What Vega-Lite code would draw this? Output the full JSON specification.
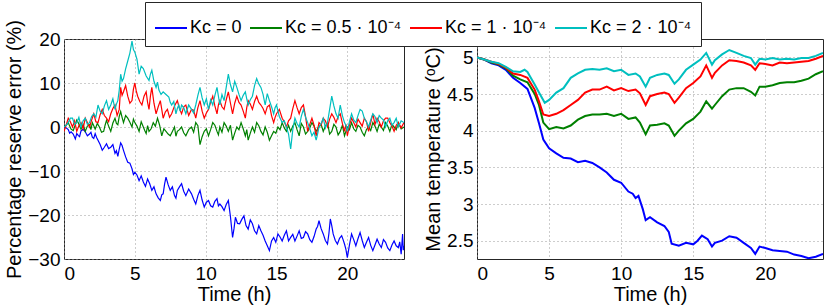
{
 "$schema": "https://vega.github.io/schema/vega-lite/v6.json",
 "padding": {"left": 4, "top": 1, "right": 5, "bottom": 0},
 "bounds": "flush",
 "spacing": 73,
 "config": {
  "font": "Liberation Sans",
  "view": {"stroke": "#262626", "strokeWidth": 1},
  "axis": {"domain": false, "ticks": false, "grid": true, "gridColor": "#9a9a9a", "gridDash": [1, 3], "gridWidth": 1, "labelFont": "Liberation Sans", "labelFontSize": 19, "labelColor": "#000", "titleFont": "Liberation Sans", "titleFontSize": 20, "titleFontWeight": 400, "titleColor": "#000"},
  "axisX": {"labelPadding": 5, "titlePadding": 1},
  "axisY": {"labelPadding": 4, "titlePadding": 3},
  "legend": {"orient": "none", "legendX": 81, "legendY": -37, "direction": "horizontal", "title": null, "symbolType": "stroke", "symbolSize": 1024, "symbolStrokeWidth": 2, "labelFontSize": 18, "labelFont": "Liberation Sans", "labelOffset": 2, "columnPadding": 4, "padding": 9, "strokeColor": "#262626", "fillColor": "white", "labelColor": "#000"}
 },
 "datasets": {
  "err": [
   {"t":0,"k":0,"v":0},{"t":0.3,"k":0,"v":-0.6},{"t":0.5,"k":0,"v":-1.1},{"t":0.8,"k":0,"v":-2.7},{"t":1.0,"k":0,"v":-1.9},{"t":1.2,"k":0,"v":-0.9},{"t":1.5,"k":0,"v":-1.1},{"t":1.8,"k":0,"v":-1.6},{"t":2.0,"k":0,"v":-2.3},{"t":2.2,"k":0,"v":-1.5},{"t":2.4,"k":0,"v":-3.0},{"t":2.7,"k":0,"v":-5.3},{"t":3.0,"k":0,"v":-3.8},{"t":3.3,"k":0,"v":-4.6},{"t":3.6,"k":0,"v":-6.0},{"t":3.8,"k":0,"v":-6.7},{"t":4.0,"k":0,"v":-3.6},{"t":4.2,"k":0,"v":-5.3},{"t":4.5,"k":0,"v":-8.0},{"t":4.8,"k":0,"v":-9.5},{"t":5.0,"k":0,"v":-10.3},{"t":5.3,"k":0,"v":-12.2},{"t":5.6,"k":0,"v":-12.5},{"t":5.9,"k":0,"v":-11.8},{"t":6.2,"k":0,"v":-14.4},{"t":6.5,"k":0,"v":-15.2},{"t":6.8,"k":0,"v":-16.7},{"t":7.0,"k":0,"v":-15.2},{"t":7.2,"k":0,"v":-11.4},{"t":7.5,"k":0,"v":-14.4},{"t":7.8,"k":0,"v":-15.6},{"t":8.0,"k":0,"v":-14.4},{"t":8.3,"k":0,"v":-12.9},{"t":8.6,"k":0,"v":-15.6},{"t":9.0,"k":0,"v":-15.2},{"t":9.3,"k":0,"v":-17.5},{"t":9.6,"k":0,"v":-14.4},{"t":9.9,"k":0,"v":-18.2},{"t":10.2,"k":0,"v":-16.7},{"t":10.5,"k":0,"v":-18.2},{"t":10.8,"k":0,"v":-16.3},{"t":11.0,"k":0,"v":-17.5},{"t":11.3,"k":0,"v":-19.0},{"t":11.6,"k":0,"v":-16.7},{"t":11.9,"k":0,"v":-25.1},{"t":12.1,"k":0,"v":-20.5},{"t":12.4,"k":0,"v":-22.0},{"t":12.7,"k":0,"v":-20.2},{"t":13.0,"k":0,"v":-23.2},{"t":13.3,"k":0,"v":-22.0},{"t":13.6,"k":0,"v":-24.3},{"t":13.9,"k":0,"v":-23.6},{"t":14.2,"k":0,"v":-25.9},{"t":14.5,"k":0,"v":-28.1},{"t":14.8,"k":0,"v":-25.1},{"t":15.1,"k":0,"v":-24.3},{"t":15.4,"k":0,"v":-25.9},{"t":15.7,"k":0,"v":-23.6},{"t":16.0,"k":0,"v":-25.1},{"t":16.3,"k":0,"v":-25.9},{"t":16.6,"k":0,"v":-23.6},{"t":16.9,"k":0,"v":-25.1},{"t":17.2,"k":0,"v":-24.3},{"t":17.5,"k":0,"v":-26.2},{"t":17.8,"k":0,"v":-23.2},{"t":18.0,"k":0,"v":-21.3},{"t":18.3,"k":0,"v":-24.3},{"t":18.6,"k":0,"v":-26.6},{"t":18.8,"k":0,"v":-20.9},{"t":19.0,"k":0,"v":-24.3},{"t":19.3,"k":0,"v":-26.6},{"t":19.6,"k":0,"v":-24.7},{"t":19.8,"k":0,"v":-26.6},{"t":20.0,"k":0,"v":-29.7},{"t":20.3,"k":0,"v":-24.3},{"t":20.6,"k":0,"v":-27.0},{"t":20.9,"k":0,"v":-24.0},{"t":21.2,"k":0,"v":-27.4},{"t":21.5,"k":0,"v":-25.1},{"t":21.8,"k":0,"v":-28.1},{"t":22.1,"k":0,"v":-25.5},{"t":22.4,"k":0,"v":-27.4},{"t":22.7,"k":0,"v":-26.2},{"t":23.0,"k":0,"v":-28.1},{"t":23.3,"k":0,"v":-25.9},{"t":23.6,"k":0,"v":-27.4},{"t":23.8,"k":0,"v":-28.9},{"t":23.9,"k":0,"v":-24.3},{"t":24.0,"k":0,"v":-27.0},
   {"t":0.15,"k":0,"v":-0.2},{"t":0.4,"k":0,"v":-1.4},{"t":0.65,"k":0,"v":-1.6},{"t":0.9,"k":0,"v":-1.5},{"t":1.1,"k":0,"v":-2.2},{"t":1.35,"k":0,"v":-0.5},{"t":1.65,"k":0,"v":-2.0},{"t":1.9,"k":0,"v":-1.2},{"t":2.1,"k":0,"v":-2.6},{"t":2.3,"k":0,"v":-2.4},{"t":2.55,"k":0,"v":-4.0},{"t":2.85,"k":0,"v":-4.6},{"t":3.15,"k":0,"v":-4.9},{"t":3.45,"k":0,"v":-4.0},{"t":3.7,"k":0,"v":-5.4},{"t":3.9,"k":0,"v":-5.0},{"t":4.1,"k":0,"v":-4.2},{"t":4.35,"k":0,"v":-6.8},{"t":4.65,"k":0,"v":-8.2},{"t":4.9,"k":0,"v":-10.8},{"t":5.15,"k":0,"v":-10.9},{"t":5.45,"k":0,"v":-11.1},{"t":5.75,"k":0,"v":-13.5},{"t":6.05,"k":0,"v":-12.9},{"t":6.35,"k":0,"v":-13.6},{"t":6.65,"k":0,"v":-16.1},{"t":6.9,"k":0,"v":-15.4},{"t":7.1,"k":0,"v":-13.0},{"t":7.35,"k":0,"v":-13.1},{"t":7.65,"k":0,"v":-13.6},{"t":7.9,"k":0,"v":-16.2},{"t":8.15,"k":0,"v":-13.6},{"t":8.45,"k":0,"v":-14.6},{"t":8.8,"k":0,"v":-14.1},{"t":9.15,"k":0,"v":-16.4},{"t":9.45,"k":0,"v":-15.6},{"t":9.75,"k":0,"v":-16.6},{"t":10.05,"k":0,"v":-17.1},{"t":10.35,"k":0,"v":-17.9},{"t":10.65,"k":0,"v":-16.9},{"t":10.9,"k":0,"v":-17.9},{"t":11.15,"k":0,"v":-18.1},{"t":11.45,"k":0,"v":-17.6},{"t":11.75,"k":0,"v":-20.4},{"t":12.0,"k":0,"v":-23.1},{"t":12.25,"k":0,"v":-21.9},{"t":12.55,"k":0,"v":-21.0},{"t":12.85,"k":0,"v":-22.4},{"t":13.15,"k":0,"v":-21.1},{"t":13.45,"k":0,"v":-23.6},{"t":13.75,"k":0,"v":-22.4},{"t":14.05,"k":0,"v":-24.6},{"t":14.35,"k":0,"v":-27.0},{"t":14.65,"k":0,"v":-25.9},{"t":14.95,"k":0,"v":-26.2},{"t":15.25,"k":0,"v":-25.0},{"t":15.55,"k":0,"v":-24.6},{"t":15.85,"k":0,"v":-25.9},{"t":16.15,"k":0,"v":-24.4},{"t":16.45,"k":0,"v":-24.8},{"t":16.75,"k":0,"v":-25.3},{"t":17.05,"k":0,"v":-23.8},{"t":17.35,"k":0,"v":-25.6},{"t":17.65,"k":0,"v":-24.9},{"t":17.9,"k":0,"v":-22.6},{"t":18.15,"k":0,"v":-23.1},{"t":18.45,"k":0,"v":-25.8},{"t":18.7,"k":0,"v":-24.2},{"t":18.9,"k":0,"v":-22.4},{"t":19.15,"k":0,"v":-25.8},{"t":19.45,"k":0,"v":-25.3},{"t":19.7,"k":0,"v":-25.6},{"t":19.9,"k":0,"v":-27.8},{"t":20.15,"k":0,"v":-26.8},{"t":20.45,"k":0,"v":-25.6},{"t":20.75,"k":0,"v":-25.4},{"t":21.05,"k":0,"v":-25.8},{"t":21.35,"k":0,"v":-26.2},{"t":21.65,"k":0,"v":-26.9},{"t":21.95,"k":0,"v":-26.8},{"t":22.25,"k":0,"v":-26.6},{"t":22.55,"k":0,"v":-25.6},{"t":22.85,"k":0,"v":-27.5},{"t":23.15,"k":0,"v":-26.8},{"t":23.45,"k":0,"v":-27.0},{"t":23.7,"k":0,"v":-26.1},{"t":23.95,"k":0,"v":-28.0},

   {"t":0,"k":0.5,"v":0},{"t":0.3,"k":0.5,"v":1.0},{"t":0.5,"k":0.5,"v":-0.5},{"t":0.8,"k":0.5,"v":0.5},{"t":1.0,"k":0.5,"v":1.0},{"t":1.2,"k":0.5,"v":-0.5},{"t":1.5,"k":0.5,"v":-1.0},{"t":1.8,"k":0.5,"v":0.5},{"t":2.0,"k":0.5,"v":1.0},{"t":2.2,"k":0.5,"v":-0.5},{"t":2.5,"k":0.5,"v":0.0},{"t":2.8,"k":0.5,"v":-1.0},{"t":3.0,"k":0.5,"v":1.5},{"t":3.3,"k":0.5,"v":-1.0},{"t":3.6,"k":0.5,"v":2.0},{"t":3.8,"k":0.5,"v":0.5},{"t":4.0,"k":0.5,"v":3.5},{"t":4.2,"k":0.5,"v":1.0},{"t":4.5,"k":0.5,"v":2.0},{"t":4.8,"k":0.5,"v":0.0},{"t":5.0,"k":0.5,"v":1.0},{"t":5.3,"k":0.5,"v":-1.0},{"t":5.6,"k":0.5,"v":0.0},{"t":5.8,"k":0.5,"v":-1.5},{"t":6.0,"k":0.5,"v":-1.0},{"t":6.3,"k":0.5,"v":1.0},{"t":6.6,"k":0.5,"v":2.0},{"t":6.9,"k":0.5,"v":-2.0},{"t":7.2,"k":0.5,"v":-1.0},{"t":7.5,"k":0.5,"v":-2.0},{"t":7.8,"k":0.5,"v":0.0},{"t":8.0,"k":0.5,"v":-1.0},{"t":8.3,"k":0.5,"v":0.0},{"t":8.6,"k":0.5,"v":-2.0},{"t":9.0,"k":0.5,"v":0.0},{"t":9.3,"k":0.5,"v":1.0},{"t":9.6,"k":0.5,"v":-4.0},{"t":9.9,"k":0.5,"v":-1.0},{"t":10.2,"k":0.5,"v":-2.0},{"t":10.5,"k":0.5,"v":1.0},{"t":10.8,"k":0.5,"v":-1.0},{"t":11.0,"k":0.5,"v":0.0},{"t":11.3,"k":0.5,"v":1.0},{"t":11.6,"k":0.5,"v":-1.0},{"t":11.9,"k":0.5,"v":-3.0},{"t":12.2,"k":0.5,"v":0.0},{"t":12.5,"k":0.5,"v":1.0},{"t":12.8,"k":0.5,"v":-2.0},{"t":13.0,"k":0.5,"v":-3.0},{"t":13.3,"k":0.5,"v":0.0},{"t":13.6,"k":0.5,"v":1.0},{"t":13.9,"k":0.5,"v":-1.0},{"t":14.2,"k":0.5,"v":0.0},{"t":14.5,"k":0.5,"v":-3.0},{"t":14.8,"k":0.5,"v":-1.0},{"t":15.1,"k":0.5,"v":0.0},{"t":15.4,"k":0.5,"v":1.0},{"t":15.7,"k":0.5,"v":-1.0},{"t":16.0,"k":0.5,"v":-1.0},{"t":16.3,"k":0.5,"v":1.0},{"t":16.6,"k":0.5,"v":-2.0},{"t":16.9,"k":0.5,"v":0.0},{"t":17.2,"k":0.5,"v":-1.0},{"t":17.5,"k":0.5,"v":1.0},{"t":17.8,"k":0.5,"v":-1.0},{"t":18.0,"k":0.5,"v":0.0},{"t":18.3,"k":0.5,"v":-1.0},{"t":18.6,"k":0.5,"v":1.0},{"t":18.9,"k":0.5,"v":-1.0},{"t":19.2,"k":0.5,"v":0.0},{"t":19.5,"k":0.5,"v":-1.0},{"t":19.8,"k":0.5,"v":-2.0},{"t":20.0,"k":0.5,"v":0.0},{"t":20.3,"k":0.5,"v":1.0},{"t":20.6,"k":0.5,"v":-1.0},{"t":20.9,"k":0.5,"v":0.0},{"t":21.2,"k":0.5,"v":-2.0},{"t":21.5,"k":0.5,"v":0.0},{"t":21.8,"k":0.5,"v":1.0},{"t":22.1,"k":0.5,"v":-1.0},{"t":22.4,"k":0.5,"v":0.0},{"t":22.7,"k":0.5,"v":1.0},{"t":23.0,"k":0.5,"v":-1.0},{"t":23.3,"k":0.5,"v":0.0},{"t":23.6,"k":0.5,"v":1.0},{"t":24.0,"k":0.5,"v":0.0},
   {"t":0.15,"k":0.5,"v":0.4},{"t":0.4,"k":0.5,"v":0.2},{"t":0.65,"k":0.5,"v":-0.8},{"t":0.9,"k":0.5,"v":1.6},{"t":1.1,"k":0.5,"v":0.2},{"t":1.35,"k":0.5,"v":0.6},{"t":1.65,"k":0.5,"v":0.2},{"t":1.9,"k":0.5,"v":-0.6},{"t":2.1,"k":0.5,"v":0.3},{"t":2.35,"k":0.5,"v":0.8},{"t":2.65,"k":0.5,"v":-1.2},{"t":2.9,"k":0.5,"v":0.4},{"t":3.15,"k":0.5,"v":0.2},{"t":3.45,"k":0.5,"v":0.9},{"t":3.7,"k":0.5,"v":0.8},{"t":3.9,"k":0.5,"v":2.4},{"t":4.1,"k":0.5,"v":2.2},{"t":4.35,"k":0.5,"v":2.6},{"t":4.65,"k":0.5,"v":1.1},{"t":4.9,"k":0.5,"v":1.8},{"t":5.15,"k":0.5,"v":0.2},{"t":5.45,"k":0.5,"v":1.2},{"t":5.7,"k":0.5,"v":-0.8},{"t":5.9,"k":0.5,"v":0.3},{"t":6.15,"k":0.5,"v":-0.4},{"t":6.45,"k":0.5,"v":0.2},{"t":6.75,"k":0.5,"v":0.4},{"t":7.05,"k":0.5,"v":-0.4},{"t":7.35,"k":0.5,"v":-1.6},{"t":7.65,"k":0.5,"v":-1.0},{"t":7.9,"k":0.5,"v":-2.1},{"t":8.15,"k":0.5,"v":-0.6},{"t":8.45,"k":0.5,"v":-1.3},{"t":8.8,"k":0.5,"v":-0.6},{"t":9.15,"k":0.5,"v":-1.2},{"t":9.45,"k":0.5,"v":0.3},{"t":9.75,"k":0.5,"v":-2.2},{"t":10.05,"k":0.5,"v":-0.4},{"t":10.35,"k":0.5,"v":-0.6},{"t":10.65,"k":0.5,"v":0.4},{"t":10.9,"k":0.5,"v":-1.8},{"t":11.15,"k":0.5,"v":-1.2},{"t":11.45,"k":0.5,"v":0.2},{"t":11.75,"k":0.5,"v":0.4},{"t":12.05,"k":0.5,"v":-1.4},{"t":12.35,"k":0.5,"v":-0.6},{"t":12.65,"k":0.5,"v":-0.4},{"t":12.9,"k":0.5,"v":-0.6},{"t":13.15,"k":0.5,"v":-1.4},{"t":13.45,"k":0.5,"v":-1.2},{"t":13.75,"k":0.5,"v":0.3},{"t":14.05,"k":0.5,"v":-1.8},{"t":14.35,"k":0.5,"v":-1.2},{"t":14.65,"k":0.5,"v":-2.0},{"t":14.95,"k":0.5,"v":-1.4},{"t":15.25,"k":0.5,"v":-0.6},{"t":15.55,"k":0.5,"v":-0.2},{"t":15.85,"k":0.5,"v":0.4},{"t":16.15,"k":0.5,"v":0.2},{"t":16.45,"k":0.5,"v":-0.6},{"t":16.75,"k":0.5,"v":0.8},{"t":17.05,"k":0.5,"v":-1.6},{"t":17.35,"k":0.5,"v":-0.2},{"t":17.65,"k":0.5,"v":0.2},{"t":17.9,"k":0.5,"v":-0.4},{"t":18.15,"k":0.5,"v":0.6},{"t":18.45,"k":0.5,"v":0.2},{"t":18.75,"k":0.5,"v":-1.6},{"t":19.05,"k":0.5,"v":0.6},{"t":19.35,"k":0.5,"v":-1.8},{"t":19.65,"k":0.5,"v":0.4},{"t":19.9,"k":0.5,"v":-1.0},{"t":20.15,"k":0.5,"v":-0.6},{"t":20.45,"k":0.5,"v":-0.4},{"t":20.75,"k":0.5,"v":0.4},{"t":21.05,"k":0.5,"v":-1.2},{"t":21.35,"k":0.5,"v":-0.6},{"t":21.65,"k":0.5,"v":-0.8},{"t":21.95,"k":0.5,"v":0.2},{"t":22.25,"k":0.5,"v":0.6},{"t":22.55,"k":0.5,"v":-0.8},{"t":22.85,"k":0.5,"v":0.2},{"t":23.15,"k":0.5,"v":0.6},{"t":23.45,"k":0.5,"v":-0.6},{"t":23.8,"k":0.5,"v":-0.4},

   {"t":0,"k":1,"v":-1},{"t":0.3,"k":1,"v":2},{"t":0.6,"k":1,"v":0},{"t":0.9,"k":1,"v":-1},{"t":1.2,"k":1,"v":1},{"t":1.5,"k":1,"v":2},{"t":1.8,"k":1,"v":0},{"t":2.1,"k":1,"v":3},{"t":2.4,"k":1,"v":1},{"t":2.7,"k":1,"v":4},{"t":3.0,"k":1,"v":2},{"t":3.3,"k":1,"v":3},{"t":3.6,"k":1,"v":5},{"t":3.9,"k":1,"v":4},{"t":4.0,"k":1,"v":9},{"t":4.2,"k":1,"v":8},{"t":4.5,"k":1,"v":7},{"t":4.8,"k":1,"v":6},{"t":5.0,"k":1,"v":10},{"t":5.2,"k":1,"v":7},{"t":5.5,"k":1,"v":5},{"t":5.8,"k":1,"v":8},{"t":6.0,"k":1,"v":4},{"t":6.2,"k":1,"v":9},{"t":6.5,"k":1,"v":3},{"t":6.8,"k":1,"v":6},{"t":7.0,"k":1,"v":2},{"t":7.3,"k":1,"v":4},{"t":7.6,"k":1,"v":3},{"t":8.0,"k":1,"v":6},{"t":8.3,"k":1,"v":3},{"t":8.6,"k":1,"v":5},{"t":9.0,"k":1,"v":4},{"t":9.3,"k":1,"v":2},{"t":9.6,"k":1,"v":6},{"t":9.9,"k":1,"v":2},{"t":10.2,"k":1,"v":4},{"t":10.5,"k":1,"v":7},{"t":10.8,"k":1,"v":3},{"t":11.0,"k":1,"v":6},{"t":11.3,"k":1,"v":4},{"t":11.6,"k":1,"v":8},{"t":11.9,"k":1,"v":3},{"t":12.2,"k":1,"v":7},{"t":12.5,"k":1,"v":5},{"t":12.8,"k":1,"v":2},{"t":13.0,"k":1,"v":6},{"t":13.3,"k":1,"v":4},{"t":13.6,"k":1,"v":7},{"t":13.9,"k":1,"v":5},{"t":14.2,"k":1,"v":3},{"t":14.5,"k":1,"v":5},{"t":14.8,"k":1,"v":1},{"t":15.0,"k":1,"v":3},{"t":15.4,"k":1,"v":2},{"t":15.7,"k":1,"v":0},{"t":16.0,"k":1,"v":2},{"t":16.3,"k":1,"v":6},{"t":16.6,"k":1,"v":3},{"t":16.9,"k":1,"v":5},{"t":17.2,"k":1,"v":-1},{"t":17.5,"k":1,"v":2},{"t":17.8,"k":1,"v":-2},{"t":18.0,"k":1,"v":1},{"t":18.3,"k":1,"v":2},{"t":18.6,"k":1,"v":0},{"t":18.9,"k":1,"v":3},{"t":19.2,"k":1,"v":1},{"t":19.5,"k":1,"v":3},{"t":19.8,"k":1,"v":-1},{"t":20.0,"k":1,"v":-2},{"t":20.3,"k":1,"v":2},{"t":20.6,"k":1,"v":0},{"t":20.9,"k":1,"v":1},{"t":21.2,"k":1,"v":2},{"t":21.5,"k":1,"v":-1},{"t":21.8,"k":1,"v":3},{"t":22.1,"k":1,"v":2},{"t":22.4,"k":1,"v":0},{"t":22.7,"k":1,"v":2},{"t":23.0,"k":1,"v":1},{"t":23.3,"k":1,"v":-1},{"t":23.6,"k":1,"v":1},{"t":24.0,"k":1,"v":1},
   {"t":0.15,"k":1,"v":0.4},{"t":0.45,"k":1,"v":1.2},{"t":0.75,"k":1,"v":1.4},{"t":1.05,"k":1,"v":0.3},{"t":1.35,"k":1,"v":-0.4},{"t":1.65,"k":1,"v":1.0},{"t":1.95,"k":1,"v":1.6},{"t":2.25,"k":1,"v":1.2},{"t":2.55,"k":1,"v":2.8},{"t":2.85,"k":1,"v":2.6},{"t":3.15,"k":1,"v":1.2},{"t":3.45,"k":1,"v":4.2},{"t":3.75,"k":1,"v":2.6},{"t":3.95,"k":1,"v":6.5},{"t":4.1,"k":1,"v":7.2},{"t":4.35,"k":1,"v":9.4},{"t":4.65,"k":1,"v":5.4},{"t":4.9,"k":1,"v":8.6},{"t":5.1,"k":1,"v":8.2},{"t":5.35,"k":1,"v":5.8},{"t":5.65,"k":1,"v":7.0},{"t":5.9,"k":1,"v":5.6},{"t":6.1,"k":1,"v":7.0},{"t":6.35,"k":1,"v":5.4},{"t":6.65,"k":1,"v":4.6},{"t":6.9,"k":1,"v":4.0},{"t":7.15,"k":1,"v":3.4},{"t":7.45,"k":1,"v":2.2},{"t":7.8,"k":1,"v":4.8},{"t":8.15,"k":1,"v":4.2},{"t":8.45,"k":1,"v":4.6},{"t":8.8,"k":1,"v":2.6},{"t":9.15,"k":1,"v":3.8},{"t":9.45,"k":1,"v":4.4},{"t":9.75,"k":1,"v":3.6},{"t":10.05,"k":1,"v":3.2},{"t":10.35,"k":1,"v":5.6},{"t":10.65,"k":1,"v":4.8},{"t":10.9,"k":1,"v":5.0},{"t":11.15,"k":1,"v":4.6},{"t":11.45,"k":1,"v":6.2},{"t":11.75,"k":1,"v":5.4},{"t":12.05,"k":1,"v":5.4},{"t":12.35,"k":1,"v":5.6},{"t":12.65,"k":1,"v":3.6},{"t":12.9,"k":1,"v":4.4},{"t":13.15,"k":1,"v":5.2},{"t":13.45,"k":1,"v":5.8},{"t":13.75,"k":1,"v":5.6},{"t":14.05,"k":1,"v":4.2},{"t":14.35,"k":1,"v":4.6},{"t":14.65,"k":1,"v":2.6},{"t":14.9,"k":1,"v":2.2},{"t":15.2,"k":1,"v":4.0},{"t":15.55,"k":1,"v":1.2},{"t":15.85,"k":1,"v":1.4},{"t":16.15,"k":1,"v":4.2},{"t":16.45,"k":1,"v":4.4},{"t":16.75,"k":1,"v":4.4},{"t":17.05,"k":1,"v":2.4},{"t":17.35,"k":1,"v":0.6},{"t":17.65,"k":1,"v":0.4},{"t":17.9,"k":1,"v":-0.6},{"t":18.15,"k":1,"v":0.4},{"t":18.45,"k":1,"v":1.4},{"t":18.75,"k":1,"v":1.8},{"t":19.05,"k":1,"v":2.2},{"t":19.35,"k":1,"v":2.4},{"t":19.65,"k":1,"v":0.8},{"t":19.9,"k":1,"v":0.6},{"t":20.15,"k":1,"v":0.4},{"t":20.45,"k":1,"v":1.0},{"t":20.75,"k":1,"v":1.8},{"t":21.05,"k":1,"v":0.2},{"t":21.35,"k":1,"v":1.2},{"t":21.65,"k":1,"v":1.0},{"t":21.95,"k":1,"v":0.6},{"t":22.25,"k":1,"v":1.2},{"t":22.55,"k":1,"v":1.4},{"t":22.85,"k":1,"v":2.0},{"t":23.15,"k":1,"v":0.2},{"t":23.45,"k":1,"v":0.4},{"t":23.8,"k":1,"v":-0.2},

   {"t":0,"k":2,"v":0},{"t":0.3,"k":2,"v":1},{"t":0.6,"k":2,"v":2},{"t":0.9,"k":2,"v":1},{"t":1.2,"k":2,"v":0},{"t":1.5,"k":2,"v":2},{"t":1.8,"k":2,"v":1},{"t":2.1,"k":2,"v":3},{"t":2.4,"k":2,"v":5},{"t":2.7,"k":2,"v":3},{"t":3.0,"k":2,"v":6},{"t":3.3,"k":2,"v":5},{"t":3.6,"k":2,"v":4},{"t":3.8,"k":2,"v":6},{"t":4.0,"k":2,"v":12},{"t":4.2,"k":2,"v":11},{"t":4.5,"k":2,"v":15},{"t":4.8,"k":2,"v":19.5},{"t":5.0,"k":2,"v":17},{"t":5.3,"k":2,"v":12},{"t":5.6,"k":2,"v":13.3},{"t":6.0,"k":2,"v":10.6},{"t":6.2,"k":2,"v":12.9},{"t":6.5,"k":2,"v":9},{"t":6.7,"k":2,"v":8.4},{"t":7.0,"k":2,"v":8},{"t":7.4,"k":2,"v":6.8},{"t":7.6,"k":2,"v":5},{"t":7.9,"k":2,"v":3},{"t":8.1,"k":2,"v":5},{"t":8.3,"k":2,"v":5},{"t":8.6,"k":2,"v":3},{"t":9.0,"k":2,"v":4},{"t":9.3,"k":2,"v":5},{"t":9.6,"k":2,"v":9},{"t":9.9,"k":2,"v":5},{"t":10.2,"k":2,"v":4},{"t":10.5,"k":2,"v":5},{"t":10.8,"k":2,"v":9},{"t":11.0,"k":2,"v":5},{"t":11.3,"k":2,"v":6},{"t":11.6,"k":2,"v":12},{"t":11.9,"k":2,"v":8},{"t":12.2,"k":2,"v":9},{"t":12.5,"k":2,"v":6},{"t":12.8,"k":2,"v":8},{"t":13.0,"k":2,"v":5},{"t":13.3,"k":2,"v":7},{"t":13.6,"k":2,"v":11},{"t":13.9,"k":2,"v":9},{"t":14.2,"k":2,"v":5},{"t":14.5,"k":2,"v":6},{"t":14.8,"k":2,"v":3},{"t":15.0,"k":2,"v":5},{"t":15.4,"k":2,"v":1},{"t":15.7,"k":2,"v":0},{"t":16.0,"k":2,"v":-5},{"t":16.3,"k":2,"v":2},{"t":16.6,"k":2,"v":0},{"t":16.9,"k":2,"v":4},{"t":17.2,"k":2,"v":1},{"t":17.5,"k":2,"v":-2},{"t":17.8,"k":2,"v":-3},{"t":18.0,"k":2,"v":0},{"t":18.3,"k":2,"v":2},{"t":18.6,"k":2,"v":1},{"t":18.9,"k":2,"v":7},{"t":19.2,"k":2,"v":3},{"t":19.5,"k":2,"v":5},{"t":19.8,"k":2,"v":1},{"t":20.0,"k":2,"v":-1},{"t":20.3,"k":2,"v":3},{"t":20.6,"k":2,"v":1},{"t":20.9,"k":2,"v":4},{"t":21.2,"k":2,"v":2},{"t":21.5,"k":2,"v":0},{"t":21.8,"k":2,"v":3},{"t":22.1,"k":2,"v":1},{"t":22.4,"k":2,"v":2},{"t":22.7,"k":2,"v":0},{"t":23.0,"k":2,"v":2},{"t":23.3,"k":2,"v":1},{"t":23.6,"k":2,"v":0},{"t":24.0,"k":2,"v":1},
   {"t":0.15,"k":2,"v":0.4},{"t":0.45,"k":2,"v":2.0},{"t":0.75,"k":2,"v":0.6},{"t":1.05,"k":2,"v":2.2},{"t":1.35,"k":2,"v":1.4},{"t":1.65,"k":2,"v":0.6},{"t":1.95,"k":2,"v":2.4},{"t":2.25,"k":2,"v":2.2},{"t":2.55,"k":2,"v":3.6},{"t":2.85,"k":2,"v":4.8},{"t":3.15,"k":2,"v":4.0},{"t":3.45,"k":2,"v":6.4},{"t":3.7,"k":2,"v":5.2},{"t":3.9,"k":2,"v":8.4},{"t":4.1,"k":2,"v":10.4},{"t":4.35,"k":2,"v":13.2},{"t":4.65,"k":2,"v":16.8},{"t":4.9,"k":2,"v":17.6},{"t":5.15,"k":2,"v":15.4},{"t":5.45,"k":2,"v":13.8},{"t":5.8,"k":2,"v":11.6},{"t":6.1,"k":2,"v":12.0},{"t":6.35,"k":2,"v":10.4},{"t":6.6,"k":2,"v":10.2},{"t":6.85,"k":2,"v":7.4},{"t":7.2,"k":2,"v":7.4},{"t":7.5,"k":2,"v":5.6},{"t":7.75,"k":2,"v":5.8},{"t":8.0,"k":2,"v":4.2},{"t":8.2,"k":2,"v":3.6},{"t":8.45,"k":2,"v":4.4},{"t":8.8,"k":2,"v":5.0},{"t":9.15,"k":2,"v":3.2},{"t":9.45,"k":2,"v":7.2},{"t":9.75,"k":2,"v":6.6},{"t":10.05,"k":2,"v":6.4},{"t":10.35,"k":2,"v":6.2},{"t":10.65,"k":2,"v":7.2},{"t":10.9,"k":2,"v":7.0},{"t":11.15,"k":2,"v":7.4},{"t":11.45,"k":2,"v":9.0},{"t":11.75,"k":2,"v":9.6},{"t":12.05,"k":2,"v":10.4},{"t":12.35,"k":2,"v":7.4},{"t":12.65,"k":2,"v":7.2},{"t":12.9,"k":2,"v":6.4},{"t":13.15,"k":2,"v":6.2},{"t":13.45,"k":2,"v":9.4},{"t":13.75,"k":2,"v":9.8},{"t":14.05,"k":2,"v":7.4},{"t":14.35,"k":2,"v":7.6},{"t":14.65,"k":2,"v":4.6},{"t":14.9,"k":2,"v":4.4},{"t":15.2,"k":2,"v":2.4},{"t":15.55,"k":2,"v":1.4},{"t":15.85,"k":2,"v":-1.6},{"t":16.15,"k":2,"v":-0.6},{"t":16.45,"k":2,"v":0.8},{"t":16.75,"k":2,"v":2.4},{"t":17.05,"k":2,"v":2.2},{"t":17.35,"k":2,"v":-0.4},{"t":17.65,"k":2,"v":-1.2},{"t":17.9,"k":2,"v":-1.6},{"t":18.15,"k":2,"v":0.8},{"t":18.45,"k":2,"v":-0.2},{"t":18.75,"k":2,"v":4.0},{"t":19.05,"k":2,"v":4.8},{"t":19.35,"k":2,"v":2.0},{"t":19.65,"k":2,"v":2.6},{"t":19.9,"k":2,"v":0.4},{"t":20.15,"k":2,"v":1.2},{"t":20.45,"k":2,"v":1.6},{"t":20.75,"k":2,"v":2.6},{"t":21.05,"k":2,"v":3.6},{"t":21.35,"k":2,"v":1.2},{"t":21.65,"k":2,"v":1.6},{"t":21.95,"k":2,"v":2.4},{"t":22.25,"k":2,"v":2.6},{"t":22.55,"k":2,"v":1.6},{"t":22.85,"k":2,"v":1.4},{"t":23.15,"k":2,"v":0.4},{"t":23.45,"k":2,"v":2.0},{"t":23.8,"k":2,"v":1.4}
  ],
  "temp": [
   {"t":0,"k":0,"v":5.0},{"t":0.5,"k":0,"v":4.97},{"t":1,"k":0,"v":4.92},{"t":1.5,"k":0,"v":4.89},{"t":2,"k":0,"v":4.83},{"t":2.5,"k":0,"v":4.72},{"t":3,"k":0,"v":4.65},{"t":3.5,"k":0,"v":4.57},{"t":4,"k":0,"v":4.31},{"t":4.3,"k":0,"v":4.1},{"t":4.6,"k":0,"v":3.88},{"t":5,"k":0,"v":3.76},{"t":5.5,"k":0,"v":3.69},{"t":6,"k":0,"v":3.63},{"t":6.5,"k":0,"v":3.62},{"t":7,"k":0,"v":3.57},{"t":7.5,"k":0,"v":3.59},{"t":8,"k":0,"v":3.56},{"t":8.5,"k":0,"v":3.5},{"t":9,"k":0,"v":3.43},{"t":9.5,"k":0,"v":3.33},{"t":10,"k":0,"v":3.29},{"t":10.5,"k":0,"v":3.17},{"t":10.8,"k":0,"v":3.14},{"t":11,"k":0,"v":3.08},{"t":11.2,"k":0,"v":3.11},{"t":11.5,"k":0,"v":2.93},{"t":11.7,"k":0,"v":2.78},{"t":12,"k":0,"v":2.82},{"t":12.5,"k":0,"v":2.75},{"t":13,"k":0,"v":2.7},{"t":13.3,"k":0,"v":2.62},{"t":13.5,"k":0,"v":2.46},{"t":14,"k":0,"v":2.43},{"t":14.5,"k":0,"v":2.47},{"t":15,"k":0,"v":2.45},{"t":15.3,"k":0,"v":2.5},{"t":15.6,"k":0,"v":2.57},{"t":16,"k":0,"v":2.52},{"t":16.3,"k":0,"v":2.42},{"t":16.5,"k":0,"v":2.47},{"t":17,"k":0,"v":2.5},{"t":17.5,"k":0,"v":2.56},{"t":18,"k":0,"v":2.54},{"t":18.5,"k":0,"v":2.47},{"t":19,"k":0,"v":2.4},{"t":19.3,"k":0,"v":2.32},{"t":19.6,"k":0,"v":2.42},{"t":20,"k":0,"v":2.4},{"t":20.5,"k":0,"v":2.37},{"t":21,"k":0,"v":2.36},{"t":21.5,"k":0,"v":2.35},{"t":22,"k":0,"v":2.31},{"t":22.5,"k":0,"v":2.29},{"t":23,"k":0,"v":2.26},{"t":23.5,"k":0,"v":2.28},{"t":24,"k":0,"v":2.32},

   {"t":0,"k":0.5,"v":5.0},{"t":0.5,"k":0.5,"v":4.97},{"t":1,"k":0.5,"v":4.93},{"t":1.5,"k":0.5,"v":4.9},{"t":2,"k":0.5,"v":4.85},{"t":2.5,"k":0.5,"v":4.75},{"t":3,"k":0.5,"v":4.7},{"t":3.5,"k":0.5,"v":4.66},{"t":4,"k":0.5,"v":4.5},{"t":4.3,"k":0.5,"v":4.35},{"t":4.6,"k":0.5,"v":4.11},{"t":5,"k":0.5,"v":4.02},{"t":5.5,"k":0.5,"v":4.05},{"t":6,"k":0.5,"v":4.03},{"t":6.5,"k":0.5,"v":4.07},{"t":7,"k":0.5,"v":4.15},{"t":7.5,"k":0.5,"v":4.2},{"t":8,"k":0.5,"v":4.22},{"t":8.5,"k":0.5,"v":4.22},{"t":9,"k":0.5,"v":4.23},{"t":9.5,"k":0.5,"v":4.2},{"t":10,"k":0.5,"v":4.23},{"t":10.5,"k":0.5,"v":4.16},{"t":11,"k":0.5,"v":4.18},{"t":11.3,"k":0.5,"v":4.11},{"t":11.7,"k":0.5,"v":3.95},{"t":12,"k":0.5,"v":4.07},{"t":12.5,"k":0.5,"v":4.08},{"t":13,"k":0.5,"v":4.1},{"t":13.3,"k":0.5,"v":4.07},{"t":13.7,"k":0.5,"v":3.93},{"t":14,"k":0.5,"v":4.0},{"t":14.5,"k":0.5,"v":4.1},{"t":15,"k":0.5,"v":4.16},{"t":15.5,"k":0.5,"v":4.26},{"t":15.9,"k":0.5,"v":4.4},{"t":16.3,"k":0.5,"v":4.3},{"t":16.5,"k":0.5,"v":4.35},{"t":17,"k":0.5,"v":4.47},{"t":17.5,"k":0.5,"v":4.56},{"t":18,"k":0.5,"v":4.58},{"t":18.5,"k":0.5,"v":4.58},{"t":19,"k":0.5,"v":4.53},{"t":19.3,"k":0.5,"v":4.48},{"t":19.6,"k":0.5,"v":4.6},{"t":20,"k":0.5,"v":4.6},{"t":20.5,"k":0.5,"v":4.62},{"t":21,"k":0.5,"v":4.65},{"t":21.5,"k":0.5,"v":4.66},{"t":22,"k":0.5,"v":4.66},{"t":22.5,"k":0.5,"v":4.68},{"t":23,"k":0.5,"v":4.71},{"t":23.5,"k":0.5,"v":4.77},{"t":24,"k":0.5,"v":4.81},

   {"t":0,"k":1,"v":5.0},{"t":0.5,"k":1,"v":4.97},{"t":1,"k":1,"v":4.94},{"t":1.5,"k":1,"v":4.91},{"t":2,"k":1,"v":4.86},{"t":2.5,"k":1,"v":4.78},{"t":3,"k":1,"v":4.76},{"t":3.5,"k":1,"v":4.72},{"t":4,"k":1,"v":4.56},{"t":4.3,"k":1,"v":4.4},{"t":4.6,"k":1,"v":4.22},{"t":5,"k":1,"v":4.2},{"t":5.5,"k":1,"v":4.23},{"t":6,"k":1,"v":4.28},{"t":6.5,"k":1,"v":4.35},{"t":7,"k":1,"v":4.42},{"t":7.5,"k":1,"v":4.52},{"t":8,"k":1,"v":4.56},{"t":8.5,"k":1,"v":4.56},{"t":9,"k":1,"v":4.6},{"t":9.5,"k":1,"v":4.55},{"t":10,"k":1,"v":4.58},{"t":10.5,"k":1,"v":4.54},{"t":11,"k":1,"v":4.56},{"t":11.3,"k":1,"v":4.51},{"t":11.7,"k":1,"v":4.35},{"t":12,"k":1,"v":4.47},{"t":12.5,"k":1,"v":4.5},{"t":13,"k":1,"v":4.52},{"t":13.3,"k":1,"v":4.5},{"t":13.7,"k":1,"v":4.38},{"t":14,"k":1,"v":4.45},{"t":14.5,"k":1,"v":4.58},{"t":15,"k":1,"v":4.65},{"t":15.5,"k":1,"v":4.74},{"t":15.9,"k":1,"v":4.89},{"t":16.3,"k":1,"v":4.72},{"t":16.5,"k":1,"v":4.79},{"t":17,"k":1,"v":4.89},{"t":17.5,"k":1,"v":4.96},{"t":18,"k":1,"v":4.95},{"t":18.5,"k":1,"v":4.93},{"t":19,"k":1,"v":4.89},{"t":19.3,"k":1,"v":4.83},{"t":19.6,"k":1,"v":4.92},{"t":20,"k":1,"v":4.91},{"t":20.5,"k":1,"v":4.89},{"t":21,"k":1,"v":4.93},{"t":21.5,"k":1,"v":4.92},{"t":22,"k":1,"v":4.93},{"t":22.5,"k":1,"v":4.94},{"t":23,"k":1,"v":4.95},{"t":23.5,"k":1,"v":4.98},{"t":24,"k":1,"v":5.02},

   {"t":0,"k":2,"v":5.0},{"t":0.5,"k":2,"v":4.97},{"t":1,"k":2,"v":4.94},{"t":1.5,"k":2,"v":4.92},{"t":2,"k":2,"v":4.87},{"t":2.5,"k":2,"v":4.81},{"t":3,"k":2,"v":4.8},{"t":3.3,"k":2,"v":4.83},{"t":3.5,"k":2,"v":4.8},{"t":4,"k":2,"v":4.63},{"t":4.3,"k":2,"v":4.52},{"t":4.7,"k":2,"v":4.38},{"t":5,"k":2,"v":4.42},{"t":5.5,"k":2,"v":4.52},{"t":6,"k":2,"v":4.58},{"t":6.5,"k":2,"v":4.72},{"t":7,"k":2,"v":4.78},{"t":7.5,"k":2,"v":4.83},{"t":8,"k":2,"v":4.84},{"t":8.5,"k":2,"v":4.83},{"t":9,"k":2,"v":4.85},{"t":9.5,"k":2,"v":4.81},{"t":10,"k":2,"v":4.83},{"t":10.5,"k":2,"v":4.76},{"t":11,"k":2,"v":4.78},{"t":11.3,"k":2,"v":4.74},{"t":11.7,"k":2,"v":4.6},{"t":12,"k":2,"v":4.72},{"t":12.5,"k":2,"v":4.76},{"t":13,"k":2,"v":4.78},{"t":13.3,"k":2,"v":4.76},{"t":13.7,"k":2,"v":4.64},{"t":14,"k":2,"v":4.7},{"t":14.5,"k":2,"v":4.83},{"t":15,"k":2,"v":4.9},{"t":15.5,"k":2,"v":4.97},{"t":15.9,"k":2,"v":5.06},{"t":16.3,"k":2,"v":4.9},{"t":16.5,"k":2,"v":4.96},{"t":17,"k":2,"v":5.04},{"t":17.5,"k":2,"v":5.1},{"t":18,"k":2,"v":5.06},{"t":18.5,"k":2,"v":5.02},{"t":19,"k":2,"v":4.99},{"t":19.3,"k":2,"v":4.9},{"t":19.6,"k":2,"v":4.98},{"t":20,"k":2,"v":4.97},{"t":20.5,"k":2,"v":4.99},{"t":21,"k":2,"v":4.97},{"t":21.5,"k":2,"v":4.98},{"t":22,"k":2,"v":4.97},{"t":22.5,"k":2,"v":4.99},{"t":23,"k":2,"v":4.99},{"t":23.5,"k":2,"v":5.02},{"t":24,"k":2,"v":5.06}
  ]
 },
 "hconcat": [
  {
   "width": 340, "height": 220,
   "data": {"name": "err"},
   "mark": {"type": "line", "strokeWidth": 1.2, "clip": true},
   "encoding": {
    "x": {"field": "t", "type": "quantitative", "scale": {"domain": [0, 24], "nice": false, "zero": false}, "axis": {"values": [0, 5, 10, 15, 20], "title": "Time (h)", "format": ".1~f", "titleFontWeight": 400}},
    "y": {"field": "v", "type": "quantitative", "scale": {"domain": [-30, 20], "nice": false, "zero": false}, "axis": {"values": [-30, -20, -10, 0, 10, 20], "title": "Percentage reserve error (%)", "format": ".1~f", "titleFontWeight": 400}},
    "color": {"field": "k", "type": "nominal", "scale": {"domain": [0, 0.5, 1, 2], "range": ["#0000ff", "#008000", "#ff0000", "#00bfbf"]}, "legend": {"labelExpr": "datum.value == 0 ? 'Kc = 0' : 'Kc = ' + datum.label + ' · 10⁻⁴'"}}
   }
  },
  {
   "width": 346, "height": 220,
   "data": {"name": "temp"},
   "mark": {"type": "line", "strokeWidth": 2, "clip": true},
   "encoding": {
    "x": {"field": "t", "type": "quantitative", "scale": {"domain": [0, 24], "nice": false, "zero": false}, "axis": {"values": [0, 5, 10, 15, 20], "title": "Time (h)", "format": ".1~f", "titleFontWeight": 400}},
    "y": {"field": "v", "type": "quantitative", "scale": {"domain": [2.25, 5.25], "nice": false, "zero": false}, "axis": {"values": [2.5, 3, 3.5, 4, 4.5, 5], "title": "Mean temperature (ᵒC)", "format": ".1~f", "titleFontWeight": 400}},
    "color": {"field": "k", "type": "nominal", "scale": {"domain": [0, 0.5, 1, 2], "range": ["#0000ff", "#008000", "#ff0000", "#00bfbf"]}, "legend": {"labelExpr": "datum.value == 0 ? 'Kc = 0' : 'Kc = ' + datum.label + ' · 10⁻⁴'"}}
   }
  }
 ],
 "resolve": {"scale": {"x": "independent", "y": "independent", "color": "shared"}}
}
